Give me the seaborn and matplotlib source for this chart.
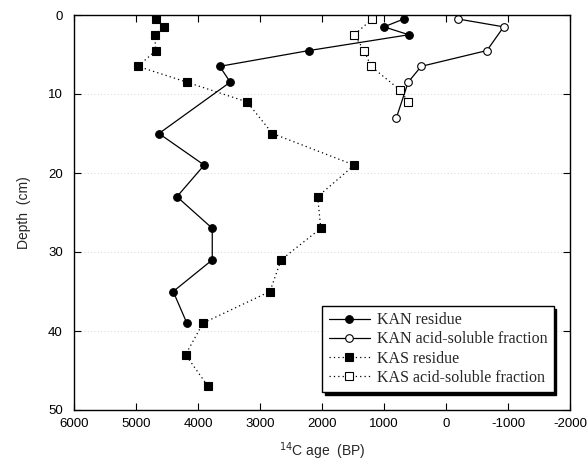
import matplotlib
matplotlib.use("Agg")
import matplotlib.pyplot as plt
import seaborn as sns
import pandas as pd

# Depth (cm) and 14C age (BP) for each fraction
kan_res_depth = [0.5, 1.5, 2.5, 4.5, 6.5, 8.5, 15, 19, 23, 27, 31, 35, 39]
kan_res_age = [680, 1000, 600, 2210, 3650, 3480, 4630, 3900, 4340, 3770, 3770, 4400, 4180]

kan_sol_depth = [0.5, 1.5, 4.5, 6.5, 8.5, 13]
kan_sol_age = [-190, -930, -660, 400, 610, 800]

kas_res_depth = [0.5, 1.5, 2.5, 4.5, 6.5, 8.5, 11, 15, 19, 23, 27, 31, 35, 39, 43, 47]
kas_res_age = [4670, 4550, 4700, 4680, 4970, 4180, 3210, 2800, 1480, 2070, 2020,
               2660, 2840, 3920, 4200, 3840]

kas_sol_depth = [0.5, 2.5, 4.5, 6.5, 9.5, 11]
kas_sol_age = [1190, 1480, 1320, 1210, 740, 610]

series_names = ["KAN residue", "KAN acid-soluble fraction",
                "KAS residue", "KAS acid-soluble fraction"]

x_ticks = [6000, 5000, 4000, 3000, 2000, 1000, 0, -1000, -2000]
y_ticks = [0, 10, 20, 30, 40, 50]

sns.set_style("ticks")
plt.rcParams["font.family"] = ["Liberation Sans", "DejaVu Sans"]

fig = plt.figure(figsize=(5.87, 4.70), dpi=100)
ax = fig.add_axes([74 / 587, 1 - 410 / 470, (570 - 74) / 587, (410 - 15) / 470])

# faint horizontal guides
for d in [10, 20, 30, 40]:
    ax.axhline(d, color="#c8c8c8", lw=0.6, ls=(0, (1, 3)), zorder=0)

styles = [
    dict(ls="-", marker="o", mfc="black", mec="black"),
    dict(ls="-", marker="o", mfc="white", mec="black"),
    dict(ls=(0, (1, 2.5)), marker="s", mfc="black", mec="black"),
    dict(ls=(0, (1, 2.5)), marker="s", mfc="white", mec="black"),
]
data = [(kan_res_age, kan_res_depth), (kan_sol_age, kan_sol_depth),
        (kas_res_age, kas_res_depth), (kas_sol_age, kas_sol_depth)]

for name, (age, depth), st in zip(series_names, data, styles):
    df = pd.DataFrame({"age": age, "depth": depth})
    sns.lineplot(data=df, x="age", y="depth", ax=ax, estimator=None, sort=False,
                 color="black", lw=0.9, linestyle=st["ls"], marker=st["marker"],
                 markersize=5.5, markerfacecolor=st["mfc"], markeredgecolor=st["mec"],
                 markeredgewidth=0.8, label=name)

ax.set_xlim(6000, -2000)
ax.set_ylim(50, 0)
ax.set_xticks(x_ticks)
ax.set_xticklabels([str(v) for v in x_ticks])
ax.set_yticks(y_ticks)
ax.tick_params(direction="in", length=5, width=0.8, top=True, right=True,
               labelsize=9.5, colors="black")
ax.tick_params(axis="x", pad=6)
ax.tick_params(axis="y", pad=8)
for s in ax.spines.values():
    s.set_linewidth(1.0)
    s.set_color("black")

ax.set_xlabel(r"$^{14}$C age  (BP)", fontsize=10, labelpad=7)
ax.set_ylabel("Depth  (cm)", fontsize=10, labelpad=12)

leg = ax.legend(loc="lower right", bbox_to_anchor=(0.983, 0.025), frameon=True,
                fancybox=False, shadow={"color": "black", "alpha": 1},
                prop={"family": "Liberation Serif", "size": 11.5},
                handlelength=2.6, handletextpad=0.4, labelspacing=0.2,
                borderpad=0.4)
leg.get_frame().set_edgecolor("black")
leg.get_frame().set_linewidth(1.0)

fig.savefig("out.png", dpi=100)
